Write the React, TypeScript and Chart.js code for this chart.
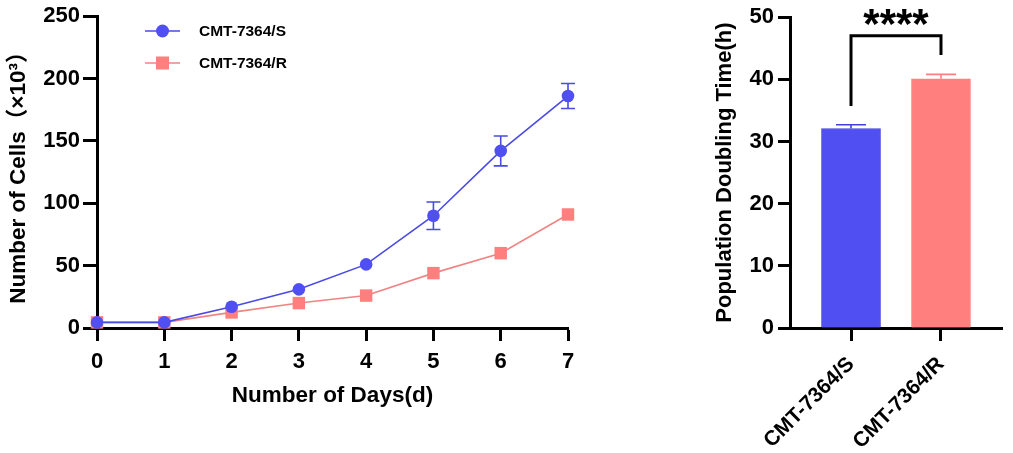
import { useEffect, useRef } from "react"
import { Chart, registerables } from "chart.js"

Chart.register(...registerables)

// growth curve (cells x10^3)
const days = [0, 1, 2, 3, 4, 5, 6, 7]
const sensitiveCells = [4.5, 4.5, 17, 31, 51, 90, 142, 186]
const sensitiveErr = [0, 0, 0, 0, 0, 11, 12, 10]
const resistantCells = [4.5, 4.5, 12.5, 20, 26, 44, 60, 91]
const resistantErr = [0, 0, 0, 0, 0, 0, 0, 0]

// doubling time (h)
const cellLines = ["CMT-7364/S", "CMT-7364/R"]
const doublingTime = [32.1, 40.1]
const doublingErr = [0.6, 0.7]

const FONT = "'Liberation Sans', Arial, 'Noto Sans CJK SC', sans-serif"
const BLUE = "#5050F2"
const BLUE_LINE = "#4A4AE6"
const RED = "#FF7F7F"
const RED_LINE = "#F08484"

const bold = (size) => ({ family: FONT, size, weight: "bold" as const })

function GrowthChart() {
  const chartRef = useRef(null)
  const chartInstance = useRef(null)

  useEffect(() => {
    if (!chartRef.current) return
    if (chartInstance.current) chartInstance.current.destroy()
    const ctx = chartRef.current.getContext("2d")

    const errors = [sensitiveErr, resistantErr]

    const errorBars = {
      id: "errorBars",
      beforeDatasetsDraw(chart) {
        const c = chart.ctx
        const y = chart.scales.y
        chart.data.datasets.forEach((ds, di) => {
          const meta = chart.getDatasetMeta(di)
          meta.data.forEach((pt, i) => {
            const e = errors[di][i]
            if (!e) return
            const v = ds.data[i].y
            const top = y.getPixelForValue(v + e)
            const bot = y.getPixelForValue(v - e)
            c.save()
            c.strokeStyle = ds.borderColor
            c.lineWidth = 1.6
            c.beginPath()
            c.moveTo(pt.x, top)
            c.lineTo(pt.x, bot)
            c.moveTo(pt.x - 7, top)
            c.lineTo(pt.x + 7, top)
            c.moveTo(pt.x - 7, bot)
            c.lineTo(pt.x + 7, bot)
            c.stroke()
            c.restore()
          })
        })
      },
    }

    const legend = {
      id: "lineLegend",
      afterDraw(chart) {
        const c = chart.ctx
        chart.data.datasets.forEach((ds, di) => {
          const yy = 31 + di * 32
          c.save()
          c.strokeStyle = ds.borderColor
          c.lineWidth = 1.6
          c.beginPath()
          c.moveTo(145, yy)
          c.lineTo(180, yy)
          c.stroke()
          c.fillStyle = ds.pointBackgroundColor
          if (di === 0) {
            c.beginPath()
            c.arc(162.5, yy, 6.5, 0, Math.PI * 2)
            c.fill()
          } else {
            c.fillRect(156, yy - 6.5, 13, 13)
          }
          c.fillStyle = "#000"
          c.font = `bold 15.5px ${FONT}`
          c.textBaseline = "middle"
          c.fillText(ds.label, 199, yy + 1)
          c.restore()
        })
      },
    }

    chartInstance.current = new Chart(ctx, {
      type: "line",
      data: {
        datasets: [
          {
            label: "CMT-7364/S",
            data: days.map((d, i) => ({ x: d, y: sensitiveCells[i] })),
            borderColor: BLUE_LINE,
            backgroundColor: BLUE,
            pointBackgroundColor: BLUE,
            pointBorderColor: BLUE,
            pointStyle: "circle",
            pointRadius: 6.3,
            pointBorderWidth: 0,
            borderWidth: 1.6,
            clip: false,
          },
          {
            label: "CMT-7364/R",
            data: days.map((d, i) => ({ x: d, y: resistantCells[i] })),
            borderColor: RED_LINE,
            backgroundColor: RED,
            pointBackgroundColor: RED,
            pointBorderColor: RED,
            pointStyle: "rect",
            pointRadius: 8.8,
            pointBorderWidth: 0,
            borderWidth: 1.6,
            clip: false,
          },
        ],
      },
      options: {
        animation: false,
        responsive: true,
        maintainAspectRatio: false,
        layout: { padding: { top: 14, right: 82, left: 0, bottom: 0 } },
        plugins: {
          legend: { display: false },
          tooltip: { enabled: false },
        },
        scales: {
          x: {
            type: "linear",
            min: 0,
            max: 7,
            ticks: { stepSize: 1, color: "#000", font: bold(22), padding: 8 },
            grid: { drawOnChartArea: false, drawTicks: true, tickLength: 13, tickWidth: 3, tickColor: "#000" },
            border: { display: true, color: "#000", width: 3 },
            title: {
              display: true,
              text: "Number of Days(d)",
              color: "#000",
              font: bold(22.5),
              padding: { top: 0, bottom: 44 },
            },
            afterFit: (s) => {
              s.height = 125
            },
          },
          y: {
            min: 0,
            max: 250,
            ticks: { stepSize: 50, color: "#000", font: bold(22), padding: 3 },
            grid: { drawOnChartArea: false, drawTicks: true, tickLength: 14, tickWidth: 3, tickColor: "#000" },
            border: { display: true, color: "#000", width: 3 },
            title: {
              display: true,
              text: "Number of Cells（×10³）",
              color: "#000",
              font: bold(22.5),
              padding: { top: 5, bottom: 0 },
            },
            afterFit: (s) => {
              s.width = 97
            },
          },
        },
      },
      plugins: [errorBars, legend],
    })

    return () => {
      if (chartInstance.current) {
        chartInstance.current.destroy()
        chartInstance.current = null
      }
    }
  }, [])

  return <canvas ref={chartRef} />
}

function DoublingChart() {
  const chartRef = useRef(null)
  const chartInstance = useRef(null)

  useEffect(() => {
    if (!chartRef.current) return
    if (chartInstance.current) chartInstance.current.destroy()
    const ctx = chartRef.current.getContext("2d")

    const barExtras = {
      id: "barExtras",
      afterDatasetsDraw(chart) {
        const c = chart.ctx
        const x = chart.scales.x
        const y = chart.scales.y
        const ds = chart.data.datasets[0]
        const meta = chart.getDatasetMeta(0)
        // error bars (upper only)
        meta.data.forEach((bar, i) => {
          const v = doublingTime[i]
          const top = y.getPixelForValue(v + doublingErr[i])
          const base = y.getPixelForValue(v)
          c.save()
          c.strokeStyle = ds.borderColor[i]
          c.lineWidth = 1.6
          c.beginPath()
          c.moveTo(bar.x, base)
          c.lineTo(bar.x, top)
          c.moveTo(bar.x - 15, top)
          c.lineTo(bar.x + 15, top)
          c.stroke()
          c.restore()
        })
        // significance bracket
        const x0 = x.getPixelForValue(0)
        const x1 = x.getPixelForValue(1)
        c.save()
        c.strokeStyle = "#000"
        c.lineWidth = 3
        c.lineJoin = "miter"
        c.beginPath()
        c.moveTo(x0, y.getPixelForValue(35.7))
        c.lineTo(x0, y.getPixelForValue(47))
        c.lineTo(x1, y.getPixelForValue(47))
        c.lineTo(x1, y.getPixelForValue(43.9))
        c.stroke()
        c.fillStyle = "#000"
        c.font = `bold 42px ${FONT}`
        c.textAlign = "center"
        c.textBaseline = "alphabetic"
        c.fillText("****", (x0 + x1) / 2, y.getPixelForValue(50) + 21)
        c.restore()
      },
    }

    chartInstance.current = new Chart(ctx, {
      type: "bar",
      data: {
        datasets: [
          {
            label: "Population Doubling Time",
            data: cellLines.map((_, i) => ({ x: i, y: doublingTime[i] })),
            backgroundColor: [BLUE, RED],
            borderColor: ["#4040DC", RED],
            borderWidth: 1,
            borderSkipped: "bottom",
            barThickness: 59,
          },
        ],
      },
      options: {
        animation: false,
        responsive: true,
        maintainAspectRatio: false,
        layout: { padding: { top: 14, right: 11, left: 0, bottom: 0 } },
        plugins: {
          legend: { display: false },
          tooltip: { enabled: false },
        },
        scales: {
          x: {
            type: "linear",
            offset: false,
            min: -0.678,
            max: 1.678,
            afterBuildTicks: (s) => {
              s.ticks = cellLines.map((_, i) => ({ value: i }))
            },
            ticks: {
              color: "#000",
              font: bold(21),
              padding: 11,
              minRotation: 45,
              maxRotation: 45,
              autoSkip: false,
              callback: (v) => cellLines[v],
            },
            grid: {
              offset: false,
              drawOnChartArea: false,
              drawTicks: true,
              tickLength: 13,
              tickWidth: 3,
              tickColor: "#000",
            },
            border: { display: true, color: "#000", width: 3 },
            afterFit: (s) => {
              s.height = 125
            },
          },
          y: {
            min: 0,
            max: 50,
            ticks: { stepSize: 10, color: "#000", font: bold(22), padding: 4 },
            grid: { drawOnChartArea: false, drawTicks: true, tickLength: 12, tickWidth: 3, tickColor: "#000" },
            border: { display: true, color: "#000", width: 3 },
            title: {
              display: true,
              text: "Population Doubling Time(h)",
              color: "#000",
              font: bold(22),
              padding: { top: 52, bottom: 0 },
            },
            afterFit: (s) => {
              s.width = 130
            },
          },
        },
      },
      plugins: [barExtras],
    })

    return () => {
      if (chartInstance.current) {
        chartInstance.current.destroy()
        chartInstance.current = null
      }
    }
  }, [])

  return <canvas ref={chartRef} />
}

export default function App() {
  return (
    <div style={{ position: "absolute", left: 0, top: 0, width: 1013, height: 453, background: "#fff" }}>
      <div style={{ position: "absolute", left: 0, top: 0, width: 650, height: 453 }}>
        <GrowthChart />
      </div>
      <div style={{ position: "absolute", left: 660, top: 0, width: 353, height: 453 }}>
        <DoublingChart />
      </div>
    </div>
  )
}
